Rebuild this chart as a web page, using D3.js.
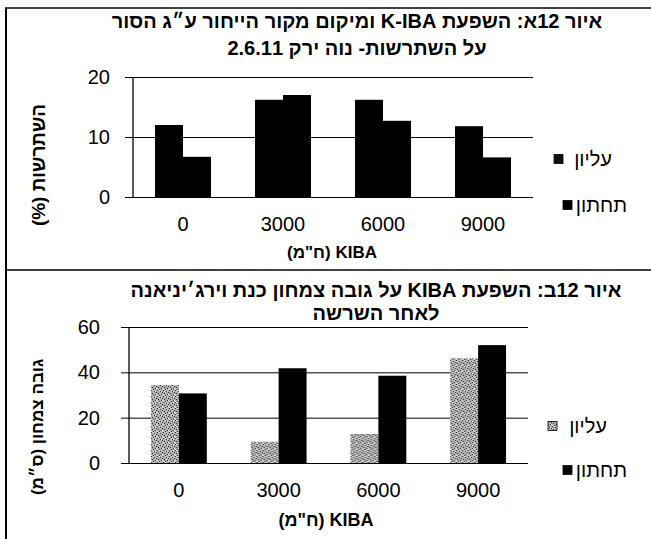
<!DOCTYPE html>
<html><head><meta charset="utf-8">
<script src="https://cdn.jsdelivr.net/npm/d3@7/dist/d3.min.js"></script>
<style>
html,body{margin:0;padding:0;background:#fff;}
svg{display:block;font-family:"Liberation Sans",Arial,sans-serif;}
</style></head>
<body>
<svg id="c" width="651" height="539"></svg>
<script>
const categories = ["0","3000","6000","9000"];
const seriesNames = ["עליון","תחתון"];
const rootUpper = [12, 16.2, 16.2, 11.8];
const rootLower = [6.7, 17, 12.7, 6.6];
const rootTicks = [0, 10, 20];
const heightUpper = [34.4, 9.4, 12.8, 46.2];
const heightLower = [30.7, 41.8, 38.5, 52];
const heightTicks = [0, 20, 40, 60];

const svg = d3.select("#c");
const defs = svg.append("defs");
const pat = defs.append("pattern").attr("id","stip").attr("patternUnits","userSpaceOnUse")
  .attr("width",6).attr("height",6);
pat.append("rect").attr("width",6).attr("height",6).attr("fill","#b0b0b0");
[[0,0],[3,1],[1,3],[4,4],[2,5],[5,2]].forEach(([a,b])=>pat.append("rect").attr("x",a).attr("y",b).attr("width",1).attr("height",1).attr("fill","#2a2a2a"));
[[2,0],[5,4],[0,5],[4,1]].forEach(([a,b])=>pat.append("rect").attr("x",a).attr("y",b).attr("width",1).attr("height",1).attr("fill","#f0f0f0"));

// frame lines
svg.append("line").attr("x1",5).attr("x2",651).attr("y1",8).attr("y2",8).attr("stroke","#000").attr("stroke-width",1.5);
svg.append("line").attr("x1",5).attr("x2",651).attr("y1",270).attr("y2",270).attr("stroke","#000").attr("stroke-width",1.5);
svg.append("line").attr("x1",6).attr("x2",6).attr("y1",8).attr("y2",539).attr("stroke","#000").attr("stroke-width",2);

function panel(o){
  const g = svg.append("g");
  const x = d3.scaleBand().domain(categories).range([o.x0,o.x1]).paddingInner(0.44).paddingOuter(0.22);
  const xs = d3.scaleBand().domain(seriesNames).range([0,x.bandwidth()]);
  const y = d3.scaleLinear().domain(o.domain).range([o.yb,o.yt]);
  g.append("g").attr("transform",`translate(${o.x0},0)`)
    .call(d3.axisLeft(y).tickValues(o.ticks).tickSize(8).tickPadding(o.yPad).tickFormat(d3.format("d")))
    .call(s=>{s.select(".domain").remove();
      s.selectAll(".tick line").attr("stroke","#000").attr("x2",o.x1-o.x0).attr("x1",-8);
      s.selectAll(".tick text").attr("font-size",o.tickFont).attr("fill","#000").attr("font-family","Liberation Sans, Arial, sans-serif");});
  g.append("line").attr("x1",o.x0).attr("x2",o.x0).attr("y1",y(o.domain[1])).attr("y2",y(0)).attr("stroke","#000").attr("stroke-width",1.3);
  // bars
  const data = categories.map((c,i)=>({c, v:[o.s1[i],o.s2[i]]}));
  const grp = g.selectAll(".grp").data(data).join("g").attr("transform",d=>`translate(${x(d.c)},0)`);
  grp.selectAll("rect").data(d=>seriesNames.map((n,j)=>({n,v:d.v[j],j}))).join("rect")
    .attr("x",d=>xs(d.n)).attr("width",xs.bandwidth())
    .attr("y",d=>y(d.v)).attr("height",d=>y(0)-y(d.v))
    .attr("fill",d=>o.fills[d.j]);
  // x labels
  g.append("g").attr("transform",`translate(0,${y(0)})`)
    .call(d3.axisBottom(x).tickSize(0).tickPadding(o.xPad))
    .call(s=>{s.select(".domain").remove();
      s.selectAll(".tick text").attr("font-size",o.tickFont).attr("fill","#000").attr("font-family","Liberation Sans, Arial, sans-serif");});
  // axis titles
  g.append("text").attr("x",o.xTitleX).attr("y",o.xTitleY).attr("text-anchor","middle")
    .attr("direction","rtl").attr("font-weight","bold").attr("font-size",o.xTitleFont).text('KIBA (ח"מ)');
  g.append("text").attr("transform",`translate(${o.yTitleX},${o.yTitleC}) rotate(-90)`).attr("text-anchor","middle")
    .attr("direction","rtl").attr("font-weight","bold").attr("font-size",o.yTitleFont).attr("dominant-baseline","central").text(o.yTitle);
  // titles
  o.titles.forEach((t,i)=>{
    g.append("text").attr("x",o.titleX).attr("y",o.titleY[i]).attr("text-anchor","middle")
      .attr("direction","rtl").attr("font-weight","bold").attr("font-size",o.titleFont).text(t);
  });
  // legend
  seriesNames.forEach((n,j)=>{
    const ly = o.legY[j];
    g.append("rect").attr("x",o.legSqX[j]).attr("y",ly-4.5).attr("width",9).attr("height",9)
      .attr("fill",o.legFills[j]).attr("stroke","#000").attr("stroke-width",0.8);
    g.append("text").attr("x",o.legTextR[j]).attr("y",ly).attr("dominant-baseline","central")
      .attr("text-anchor","end").attr("font-size",o.legFont).text(n);
  });
}

panel({x0:133,x1:533,yb:197,yt:77,domain:[0,20],ticks:rootTicks,s1:rootUpper,s2:rootLower,
  fills:["#000","#000"],legFills:["#111","#000"],tickFont:20,xPad:20,yPad:15,
  xTitleX:332,xTitleY:258,xTitleFont:17,yTitleX:38,yTitleC:165,yTitleFont:19,yTitle:"השתרשות (%)",
  titles:["איור 12א: השפעת  K-IBA ומיקום מקור הייחור ע״ג הסור","על השתרשות- נוה ירק 2.6.11"],
  titleX:357,titleFont:20,titleY:[28,55],
  legY:[159,205],legSqX:[554,563],legTextR:[612,627],legFont:20});

panel({x0:129,x1:528,yb:463,yt:327,domain:[0,60],ticks:heightTicks,s1:heightUpper,s2:heightLower,
  fills:["url(#stip)","#000"],legFills:["url(#stip)","#000"],tickFont:20,xPad:20,yPad:21,
  xTitleX:326,xTitleY:526,xTitleFont:18,yTitleX:37,yTitleC:427,yTitleFont:17,yTitle:"גובה צמחון (ס״מ)",
  titles:["איור 12ב: השפעת  KIBA על גובה צמחון כנת וירג׳יניאנה","לאחר השרשה"],
  titleX:376,titleFont:20,titleY:[297,320],
  legY:[426,470],legSqX:[548,563],legTextR:[607,627],legFont:20});
</script>
</body></html>
